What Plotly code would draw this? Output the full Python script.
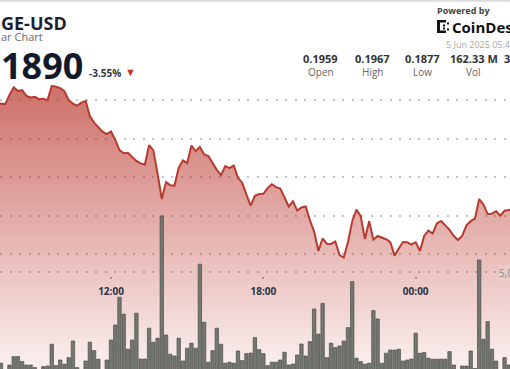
import pandas as pd
import plotly.graph_objects as go

# ---- data (10-minute samples, DOGE-USD) ----
start_time = "2025-06-04 07:30"
price = [
    0.19584, 0.19583, 0.19579, 0.19626, 0.19666, 0.19647, 0.19652, 0.19622, 0.19614, 0.19617,
    0.19605, 0.19607, 0.19600, 0.19674, 0.19670, 0.19662, 0.19647, 0.19600, 0.19581, 0.19571,
    0.19587, 0.19596, 0.19517, 0.19483, 0.19458, 0.19436, 0.19423, 0.19437, 0.19393, 0.19340,
    0.19324, 0.19326, 0.19304, 0.19284, 0.19271, 0.19265, 0.19366, 0.19339, 0.19218, 0.19086,
    0.19174, 0.19158, 0.19156, 0.19249, 0.19287, 0.19273, 0.19364, 0.19334, 0.19357, 0.19318,
    0.19309, 0.19273, 0.19238, 0.19210, 0.19257, 0.19247, 0.19260, 0.19195, 0.19171, 0.19109,
    0.19052, 0.19103, 0.19112, 0.19113, 0.19143, 0.19163, 0.19148, 0.19141, 0.19096, 0.19047,
    0.19075, 0.19026, 0.19042, 0.19047, 0.18975, 0.18917, 0.18816, 0.18881, 0.18854, 0.18853,
    0.18865, 0.18795, 0.18782, 0.18862, 0.18971, 0.19031, 0.18997, 0.18878, 0.18971, 0.18875,
    0.18894, 0.18886, 0.18877, 0.18862, 0.18792, 0.18829, 0.18863, 0.18861, 0.18849, 0.18862,
    0.18816, 0.18894, 0.18922, 0.18907, 0.18959, 0.18972, 0.18949, 0.18926, 0.18894, 0.18873,
    0.18896, 0.18949, 0.18971, 0.18984, 0.19086, 0.19058, 0.19008, 0.19010, 0.19023, 0.18999,
    0.19025, 0.19031, 0.19034,
]
volume_m = [
    0.30, 0.44, 0.10, 0.35, 0.77, 0.77, 0.52, 0.35, 0.35, 0.22,
    0.10, 0.27, 0.30, 1.39, 0.32, 0.60, 0.39, 0.72, 1.55, 0.22,
    0.10, 0.55, 1.49, 1.07, 0.64, 0.10, 0.60, 1.60, 2.35, 3.74,
    2.89, 1.14, 1.60, 2.94, 0.65, 0.65, 2.19, 1.49, 1.69, 7.80,
    1.85, 0.89, 0.80, 1.69, 0.55, 1.19, 1.44, 1.19, 5.39, 2.49,
    0.49, 1.07, 2.19, 1.39, 0.44, 0.49, 0.44, 1.05, 0.57, 0.92,
    0.95, 1.72, 1.12, 0.92, 0.32, 0.49, 0.49, 0.60, 0.99, 0.35,
    0.40, 0.85, 1.40, 0.80, 1.52, 3.15, 1.89, 3.43, 0.72, 1.44,
    1.22, 1.30, 1.55, 2.22, 4.52, 0.69, 0.52, 0.39, 0.44, 3.07,
    2.65, 0.44, 0.94, 1.10, 1.10, 1.14, 0.55, 0.60, 0.65, 1.94,
    0.94, 0.97, 0.69, 0.64, 0.64, 0.64, 0.64, 1.02, 0.35, 0.10,
    0.30, 0.30, 1.05, 0.18, 5.60, 1.64, 2.52, 1.14, 0.55, 0.10,
    0.72, 0.35, 0.30,
]
times = pd.date_range(start_time, periods=len(price), freq="10min")

price_grid = [0.188, 0.190, 0.192, 0.194, 0.196]
volume_grid = [5]
stat_values = ["0.1959", "0.1967", "0.1877", "162.33 M"]
stat_labels = ["Open", "High", "Low", "Vol"]

W, H = 510, 369
FONT = "Open Sans"

fig = go.Figure()
fig.add_trace(go.Scatter(
    x=times, y=price, mode="lines",
    line=dict(color="#b73a2e", width=2),
    fill="tozeroy",
    fillgradient=dict(
        type="vertical",
        colorscale=[[0, "rgba(185,50,40,0.07)"], [1, "rgba(185,50,40,0.70)"]],
        start=0.18203, stop=0.19678,
    ),
    hoverinfo="skip", showlegend=False,
))
fig.add_trace(go.Bar(
    x=times, y=volume_m, yaxis="y2",
    marker=dict(color="#74776f", line=dict(color="#4a4d47", width=0.7)),
    hoverinfo="skip", showlegend=False,
))

fig.update_layout(
    width=W, height=H,
    margin=dict(l=0, r=0, t=0, b=0, pad=0, autoexpand=False),
    paper_bgcolor="white", plot_bgcolor="white",
    bargap=0.2,
    font=dict(family=FONT),
    xaxis=dict(
        type="date",
        range=["2025-06-04 07:37:40", "2025-06-05 03:42:50"],
        anchor="free", position=0.252, automargin=False,
        showgrid=False, showline=False, zeroline=False,
        dtick=6 * 3600 * 1000, tick0="2025-06-04 00:00",
        tickformat="%H:%M",
        ticks="outside", ticklen=1.5, tickwidth=1.5, tickcolor="#9a9a9a",
        ticklabelstandoff=4,
        tickfont=dict(size=10, color="#2b3445", weight=700),
    ),
    yaxis=dict(
        range=[0.18203, 0.20120], automargin=False,
        tickvals=price_grid, showticklabels=False,
        showgrid=True, gridcolor="#c4c4c4", gridwidth=1.5, griddash="2px,7.5px",
        zeroline=False, showline=False,
    ),
    yaxis2=dict(
        overlaying="y", side="right", automargin=False,
        range=[0.15, 18.6],
        tickvals=volume_grid, showticklabels=False,
        showgrid=True, gridcolor="#c4c4c4", gridwidth=1.5, griddash="2px,7.5px",
        zeroline=False, showline=False,
    ),
)

def px(x):
    return x / W

def py(y):
    return 1 - y / H

ann = []
def text(t, x, y, size, color, xanchor="left", bold=False, bg=None):
    ann.append(dict(
        text=t, x=px(x), y=py(y), xref="paper", yref="paper",
        xanchor=xanchor, yanchor="middle", showarrow=False,
        font=dict(family=FONT, size=size, color=color, weight=700 if bold else 400),
        bgcolor=bg, borderpad=0,
    ))

text("GE-USD", 0, 23, 18, "#1a2231", bold=True)
text("ar Chart", 0, 36.5, 11, "#6b6b6b")
text("1890", 0, 65.5, 36, "#111a2a", bold=True)
text("-3.55%", 88, 73, 10, "#333a44", bold=True)
text("▼", 124, 72, 11, "#c0392b")
text("Powered by", 436, 10, 9, "#444444", bold=True)
text("CoinDesk", 451, 26.5, 15, "#111111", bold=True)
text("5 Jun 2025 05:4", 445, 44.5, 9, "#a8a8a8")
centers = [320.5, 372, 422.5, 473.5]
for v, lab, cx in zip(stat_values, stat_labels, centers):
    text(v, cx, 58.5, 11, "#333333", xanchor="center", bold=True)
    text(lab, cx, 72, 10, "#666666", xanchor="center")
text("3", 503, 58.5, 11, "#333333", bold=True)
text("5,0", 498, 272.5, 10, "#8a8a8a", bg="#edcbc7")
fig.update_layout(annotations=ann)

# CoinDesk mark and top border
shapes = [
    dict(type="line", xref="paper", yref="paper", x0=0, x1=1, y0=py(0.8), y1=py(0.8),
         line=dict(color="#dddddd", width=2)),
]
for (x0, y0, x1, y1) in [(437, 20, 440, 33), (437, 20, 446, 22.5), (437, 30.5, 446, 33),
                         (443, 24.5, 445, 26.5), (443, 27.5, 445, 29.5), (447, 22.5, 449, 24.5),
                         (447, 28.5, 449, 30.5)]:
    shapes.append(dict(type="rect", xref="paper", yref="paper",
                       x0=px(x0), x1=px(x1), y0=py(y0), y1=py(y1),
                       fillcolor="#151515", line=dict(width=0)))
fig.update_layout(shapes=shapes)

fig.write_html(
    "out.html",
    config={"displayModeBar": False},
    post_script="document.body.style.margin='0';document.body.style.padding='0';",
)
